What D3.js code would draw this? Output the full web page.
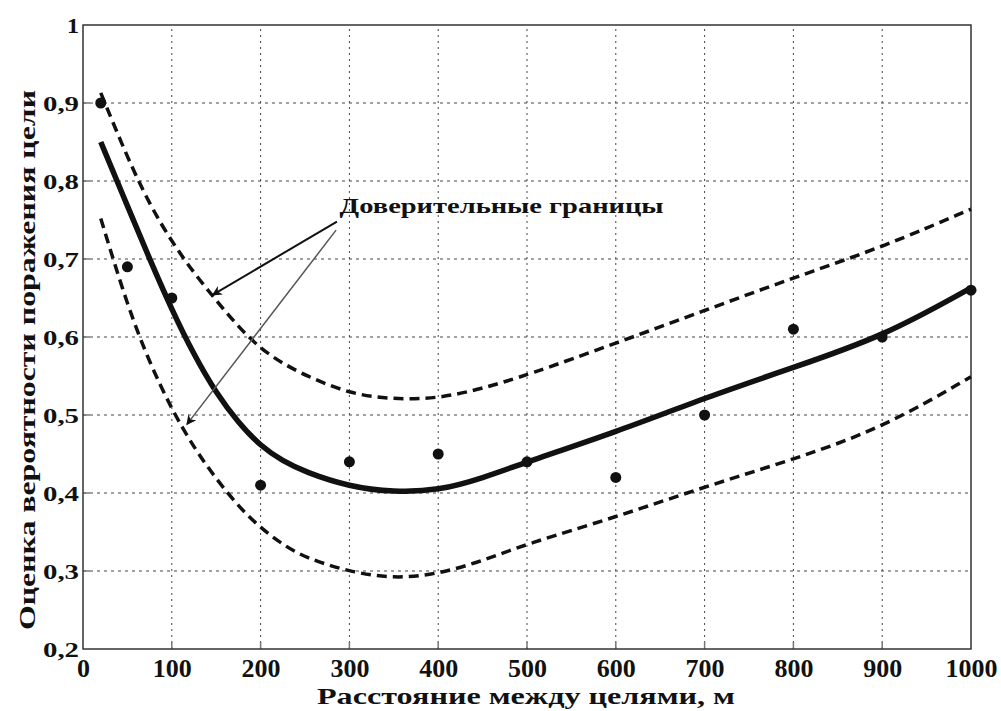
<!DOCTYPE html>
<html>
<head>
<meta charset="utf-8">
<script src="https://cdn.jsdelivr.net/npm/d3@7"></script>
<style>
    body { margin: 0; background: #fff; }
    text { font-family: "Liberation Serif", "Times New Roman", Times, serif; font-weight: bold; fill: #111; }
</style>
</head>
<body>
<div id="chart"></div>
<script>

// experimental points
var pointX = [20, 50, 100, 200, 300, 400, 500, 600, 700, 800, 900, 1000];
var pointY = [0.90, 0.69, 0.65, 0.41, 0.44, 0.45, 0.44, 0.42, 0.50, 0.61, 0.60, 0.66];

// regression curve and confidence bounds
var curveX = [20, 50, 75, 100, 125, 150, 175, 200, 225, 250, 300, 350, 400, 450, 500, 600, 700, 800, 900, 1000];
var fitY   = [0.85, 0.768, 0.700, 0.635, 0.577, 0.528, 0.490, 0.460, 0.441, 0.427, 0.408, 0.401, 0.403, 0.419, 0.44, 0.478, 0.522, 0.561, 0.600, 0.663];
var upperY = [0.913, 0.83, 0.77, 0.722, 0.682, 0.647, 0.613, 0.585, 0.566, 0.551, 0.527, 0.520, 0.521, 0.534, 0.551, 0.592, 0.634, 0.676, 0.715, 0.764];
var lowerY = [0.752, 0.64, 0.567, 0.507, 0.458, 0.418, 0.383, 0.355, 0.334, 0.317, 0.299, 0.290, 0.296, 0.313, 0.335, 0.369, 0.408, 0.443, 0.483, 0.549];

var xTicks = [0, 100, 200, 300, 400, 500, 600, 700, 800, 900, 1000];
var yTicks = [0.2, 0.3, 0.4, 0.5, 0.6, 0.7, 0.8, 0.9, 1];
var yTickLabels = ["0,2", "0,3", "0,4", "0,5", "0,6", "0,7", "0,8", "0,9", "1"];

var xTitle = "Расстояние между целями, м";
var yTitle = "Оценка вероятности поражения цели";
var noteText = "Доверительные границы";
// annotation anchor (text start) and arrow targets, in data units
var noteAt = [289, 0.759];
var arrowFrom = [[286, 0.748], [285, 0.737]];
var arrowTo = [[146, 0.654], [117, 0.488]];

(function () {

    var width = 1001;
    var height = 711;
    var margin = { top: 25, right: 30, bottom: 62, left: 83 };

    var svg = d3.select("#chart")
        .append("svg")
        .attr("width", width)
        .attr("height", height);

    var x = d3.scaleLinear()
        .domain([0, 1000])
        .range([margin.left, width - margin.right]);

    var y = d3.scaleLinear()
        .domain([0.2, 1])
        .range([height - margin.bottom, margin.top]);

    var defs = svg.append("defs");
    defs.append("marker")
        .attr("id", "head")
        .attr("viewBox", "0 0 10 10")
        .attr("refX", 9).attr("refY", 5)
        .attr("markerWidth", 12).attr("markerHeight", 10)
        .attr("markerUnits", "userSpaceOnUse")
        .attr("orient", "auto")
        .append("path")
        .attr("d", "M0,0 L10,5 L0,10 L3,5 Z")
        .attr("fill", "#111");

    // grid
    var grid = svg.append("g").attr("class", "grid");
    grid.selectAll(".vgrid")
        .data(xTicks.slice(1, -1))
        .enter()
        .append("line")
        .attr("x1", function (d) { return x(d); })
        .attr("x2", function (d) { return x(d); })
        .attr("y1", y(0.2))
        .attr("y2", y(1))
        .attr("stroke", "#444")
        .attr("stroke-width", 1)
        .attr("stroke-dasharray", "2,4");

    grid.selectAll(".hgrid")
        .data(yTicks.slice(1, -1))
        .enter()
        .append("line")
        .attr("y1", function (d) { return y(d); })
        .attr("y2", function (d) { return y(d); })
        .attr("x1", x(0))
        .attr("x2", x(1000))
        .attr("stroke", "#444")
        .attr("stroke-width", 1)
        .attr("stroke-dasharray", "3,4");

    // axes
    var xAxis = d3.axisBottom(x)
        .tickValues(xTicks)
        .tickSize(0)
        .tickPadding(8)
        .tickFormat(d3.format("d"));

    var yAxis = d3.axisLeft(y)
        .tickValues(yTicks)
        .tickSize(0)
        .tickPadding(5)
        .tickFormat(function (d, i) { return yTickLabels[i]; });

    var gx = svg.append("g")
        .attr("transform", "translate(0," + y(0.2) + ")")
        .call(xAxis);
    gx.select(".domain").remove();
    gx.selectAll("text")
        .attr("dy", null)
        .attr("y", 28)
        .style("font-size", "26px");

    var gy = svg.append("g")
        .attr("transform", "translate(" + x(0) + ",0)")
        .call(yAxis);
    gy.select(".domain").remove();
    gy.selectAll("text")
        .attr("x", -4)
        .attr("dy", "0.35em")
        .style("font-size", "20px")
        .attr("textLength", function (d, i) { return yTickLabels[i].length == 1 ? 12 : 36; })
        .attr("lengthAdjust", "spacingAndGlyphs");

    // small inner ticks
    svg.append("g").selectAll("line")
        .data(xTicks.slice(1, -1))
        .enter()
        .append("line")
        .attr("x1", function (d) { return x(d); })
        .attr("x2", function (d) { return x(d); })
        .attr("y1", y(0.2))
        .attr("y2", y(0.2) - 7)
        .attr("stroke", "#777")
        .attr("stroke-width", 1.5);
    svg.append("g").selectAll("line")
        .data(yTicks.slice(1, -1))
        .enter()
        .append("line")
        .attr("y1", function (d) { return y(d); })
        .attr("y2", function (d) { return y(d); })
        .attr("x1", x(0))
        .attr("x2", x(0) + 7)
        .attr("stroke", "#777")
        .attr("stroke-width", 1.5);

    // frame
    svg.append("rect")
        .attr("x", x(0))
        .attr("y", y(1))
        .attr("width", x(1000) - x(0))
        .attr("height", y(0.2) - y(1))
        .attr("fill", "none")
        .attr("stroke", "#333")
        .attr("stroke-width", 1.5);

    var line = d3.line()
        .x(function (d) { return x(d[0]); })
        .y(function (d) { return y(d[1]); })
        .curve(d3.curveBasis);

    var zip = function (ys) {
        return curveX.map(function (v, i) { return [v, ys[i]]; });
    };

    svg.append("path")
        .attr("d", line(zip(upperY)))
        .attr("fill", "none")
        .attr("stroke", "#111")
        .attr("stroke-width", 3.5)
        .attr("stroke-dasharray", "10,6");

    svg.append("path")
        .attr("d", line(zip(lowerY)))
        .attr("fill", "none")
        .attr("stroke", "#111")
        .attr("stroke-width", 3.5)
        .attr("stroke-dasharray", "10,6");

    svg.append("path")
        .attr("d", line(zip(fitY)))
        .attr("fill", "none")
        .attr("stroke", "#111")
        .attr("stroke-width", 5.5);

    svg.append("g").selectAll("circle")
        .data(pointX)
        .enter()
        .append("circle")
        .attr("cx", function (d) { return x(d); })
        .attr("cy", function (d, i) { return y(pointY[i]); })
        .attr("r", 5.5)
        .attr("fill", "#111");

    // annotation
    svg.append("g").selectAll("line")
        .data(arrowTo)
        .enter()
        .append("line")
        .attr("x1", function (d, i) { return x(arrowFrom[i][0]); })
        .attr("y1", function (d, i) { return y(arrowFrom[i][1]); })
        .attr("x2", function (d) { return x(d[0]); })
        .attr("y2", function (d) { return y(d[1]); })
        .attr("stroke", function (d, i) { return i == 0 ? "#111" : "#555"; })
        .attr("stroke-width", function (d, i) { return i == 0 ? 2 : 1.5; })
        .attr("marker-end", "url(#head)");

    svg.append("text")
        .attr("x", x(noteAt[0]))
        .attr("y", y(noteAt[1]))
        .style("font-size", "22px")
        .attr("textLength", 324)
        .attr("lengthAdjust", "spacingAndGlyphs")
        .text(noteText);

    // axis titles
    svg.append("text")
        .attr("x", 317)
        .attr("y", 704)
        .style("font-size", "24px")
        .attr("textLength", 418)
        .attr("lengthAdjust", "spacingAndGlyphs")
        .text(xTitle);

    svg.append("text")
        .attr("transform", "translate(35,630) rotate(-90)")
        .style("font-size", "24px")
        .attr("textLength", 540)
        .attr("lengthAdjust", "spacingAndGlyphs")
        .text(yTitle);

})();
</script>
</body>
</html>
